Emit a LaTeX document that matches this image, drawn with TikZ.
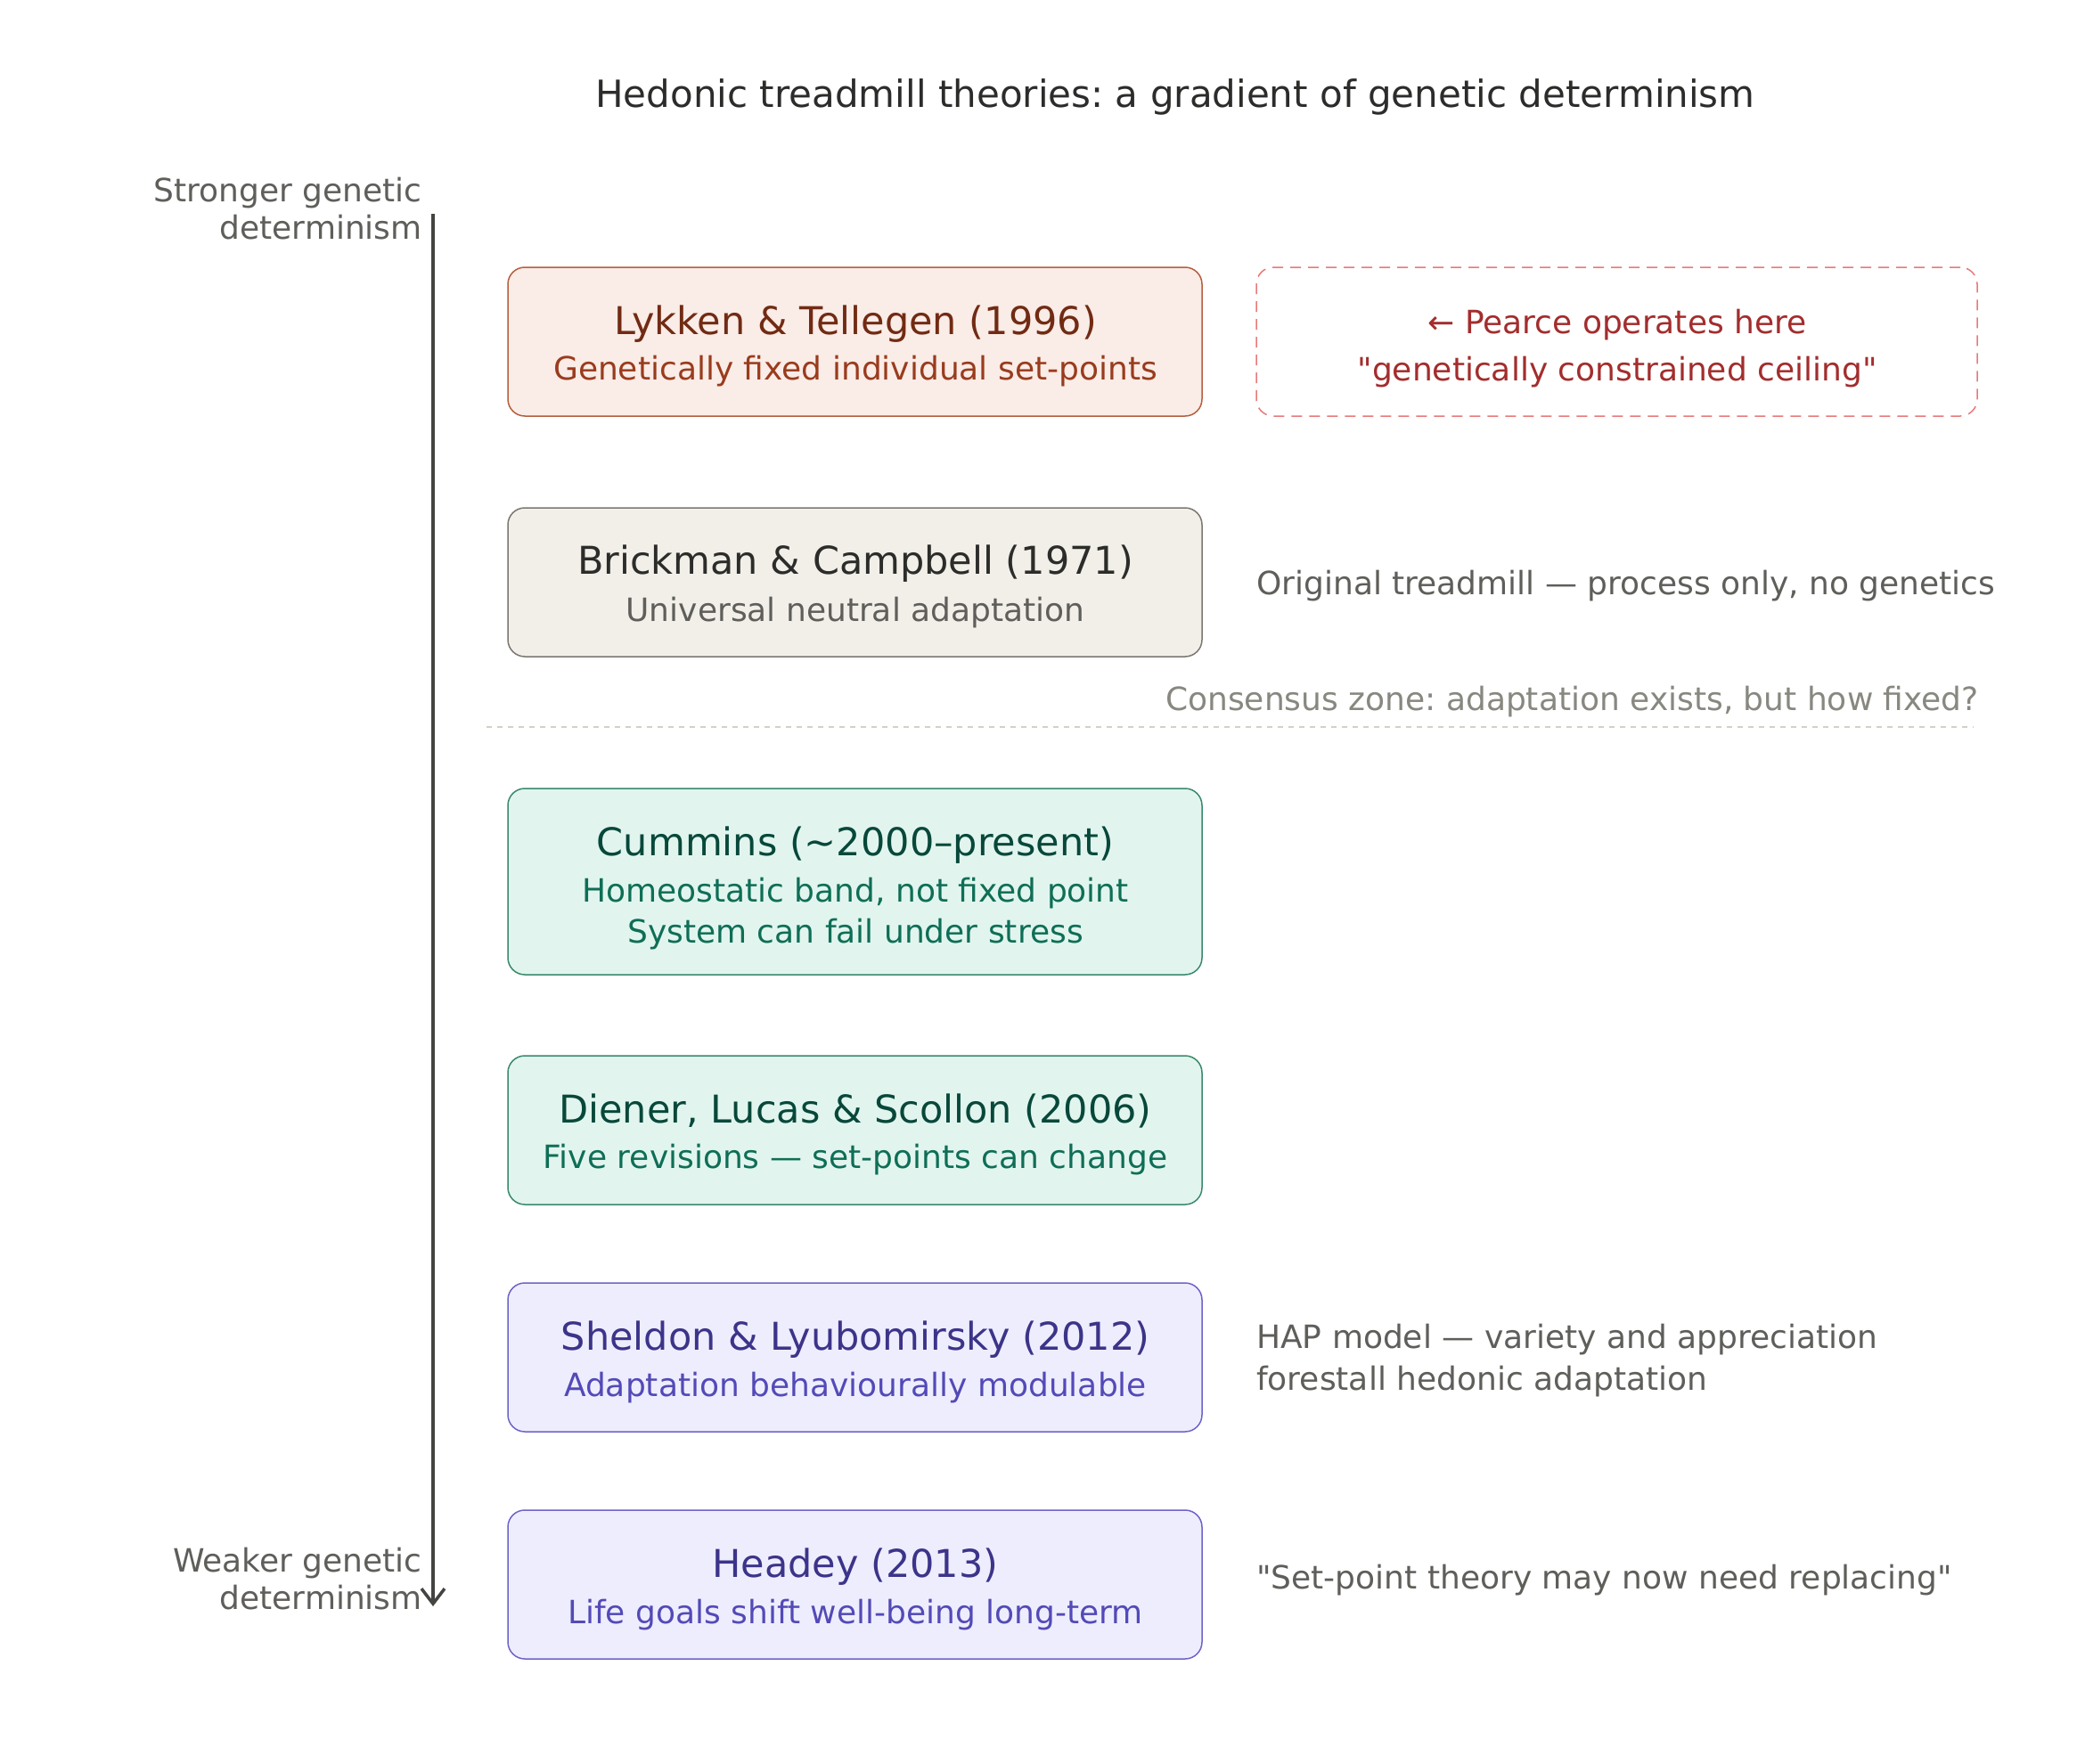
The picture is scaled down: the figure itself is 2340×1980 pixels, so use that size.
\documentclass[tikz,border=0pt]{standalone}
\usepackage{fontspec}
\setmainfont{DejaVu Sans}
\usetikzlibrary{arrows.meta}
\frenchspacing
\definecolor{titlec}{HTML}{2C2C2A}
\definecolor{grayt}{HTML}{5F5E5A}
\definecolor{consc}{HTML}{888780}
\definecolor{sepc}{HTML}{D3D1C7}
\definecolor{axisc}{HTML}{444441}
\definecolor{rfill}{HTML}{FAECE7}
\definecolor{rdraw}{HTML}{B5603F}
\definecolor{rtitle}{HTML}{712B13}
\definecolor{rsub}{HTML}{993C1D}
\definecolor{ddraw}{HTML}{E87A7A}
\definecolor{dtext}{HTML}{A32D2D}
\definecolor{gfill}{HTML}{F1EFE8}
\definecolor{gdraw}{HTML}{7A7870}
\definecolor{gtitle}{HTML}{2C2C2A}
\definecolor{gsub}{HTML}{5F5E5A}
\definecolor{tfill}{HTML}{E1F5EE}
\definecolor{tdraw}{HTML}{3A8A6C}
\definecolor{ttitle}{HTML}{08483A}
\definecolor{tsub}{HTML}{0F6E56}
\definecolor{pfill}{HTML}{EEEDFE}
\definecolor{pdraw}{HTML}{6E64C8}
\definecolor{ptitle}{HTML}{3C3489}
\definecolor{psub}{HTML}{534AB7}
\tikzset{
  box/.style={rectangle, rounded corners=19pt, line width=1.5pt, inner sep=0pt,
    minimum width=779pt},
  bigtxt/.style={anchor=base, inner sep=0pt, font=\fontsize{43}{50}\selectfont},
  smalltxt/.style={anchor=base, inner sep=0pt, font=\fontsize{36}{43}\selectfont},
  sidetxt/.style={anchor=base west, inner sep=0pt, text=grayt, font=\fontsize{36}{43}\selectfont},
  axlabel/.style={anchor=base east, inner sep=0pt, text=grayt, font=\fontsize{36}{42}\selectfont},
}
\begin{document}
\begin{tikzpicture}[x=1pt,y=-1pt]
\useasboundingbox (0,0) rectangle (2340,1980);
\fill[white] (0,0) rectangle (2340,1980);

% title
\node[anchor=base, inner sep=0pt, font=\fontsize{42}{50}\selectfont, text=titlec] (title) at (1319,121) {Hedonic treadmill theories: a gradient of genetic determinism};

% axis
\coordinate (axtop) at (486,240);
\coordinate (axbot) at (486,1803);
\draw[axisc, line width=3.5pt, -{Straight Barb[length=17pt,width=26pt]}] (axtop) -- (axbot);
\node[axlabel] (ax1a) at (474,227) {Stronger genetic};
\node[axlabel] (ax1b) at (474,269) {determinism};
\node[axlabel] (ax2a) at (474,1764) {Weaker genetic};
\node[axlabel] (ax2b) at (474,1806) {determinism};

% box 1
\node[box, fill=rfill, draw=rdraw, minimum height=167pt] (b1) at (959.5,383.5) {};
\node[bigtxt, text=rtitle] (b1t) at (960,375) {Lykken \& Tellegen (1996)};
\node[smalltxt, text=rsub] (b1s) at (960,426) {Genetically fixed individual set-points};

% dashed note
\node[box, draw=ddraw, dash pattern=on 12pt off 8pt, minimum width=809pt, minimum height=167pt] (d1) at (1814.5,383.5) {};
\node[smalltxt, text=dtext] (d1a) at (1815,374) {← Pearce operates here};
\node[smalltxt, text=dtext] (d1b) at (1815,427) {\textquotedbl genetically constrained ceiling\textquotedbl};

% box 2
\node[box, fill=gfill, draw=gdraw, minimum height=167pt] (b2) at (959.5,653.5) {};
\node[bigtxt, text=gtitle] (b2t) at (960,644) {Brickman \& Campbell (1971)};
\node[smalltxt, text=gsub] (b2s) at (960,697) {Universal neutral adaptation};
\node[sidetxt] (n2) at (1410,667) {Original treadmill — process only, no genetics};

% separator
\node[smalltxt, anchor=base east, text=consc] (cons) at (2221,797) {Consensus zone: adaptation exists, but how fixed?};
\coordinate (sepL) at (546,816);
\coordinate (sepR) at (2215,816);
\draw[sepc, line width=1.5pt, dash pattern=on 6pt off 6pt] (sepL) -- (sepR);

% box 3
\node[box, fill=tfill, draw=tdraw, minimum height=209pt] (b3) at (959.5,989.5) {};
\node[bigtxt, text=ttitle] (b3t) at (960,960) {Cummins (\textasciitilde 2000–present)};
\node[smalltxt, text=tsub] (b3s) at (960,1012) {Homeostatic band, not fixed point};
\node[smalltxt, text=tsub] (b3u) at (960,1058) {System can fail under stress};

% box 4
\node[box, fill=tfill, draw=tdraw, minimum height=167pt] (b4) at (959.5,1268.5) {};
\node[bigtxt, text=ttitle] (b4t) at (960,1260) {Diener, Lucas \& Scollon (2006)};
\node[smalltxt, text=tsub] (b4s) at (960,1311) {Five revisions — set-points can change};

% box 5
\node[box, fill=pfill, draw=pdraw, minimum height=167pt] (b5) at (959.5,1523.5) {};
\node[bigtxt, text=ptitle] (b5t) at (960,1515) {Sheldon \& Lyubomirsky (2012)};
\node[smalltxt, text=psub] (b5s) at (960,1567) {Adaptation behaviourally modulable};
\node[sidetxt] (n5a) at (1410,1513) {HAP model — variety and appreciation};
\node[sidetxt] (n5b) at (1410,1560) {forestall hedonic adaptation};

% box 6
\node[box, fill=pfill, draw=pdraw, minimum height=167pt] (b6) at (959.5,1778.5) {};
\node[bigtxt, text=ptitle] (b6t) at (960,1770) {Headey (2013)};
\node[smalltxt, text=psub] (b6s) at (960,1822) {Life goals shift well-being long-term};
\node[sidetxt] (n6) at (1410,1783) {\textquotedbl Set-point theory may now need replacing\textquotedbl};

\end{tikzpicture}
\end{document}
